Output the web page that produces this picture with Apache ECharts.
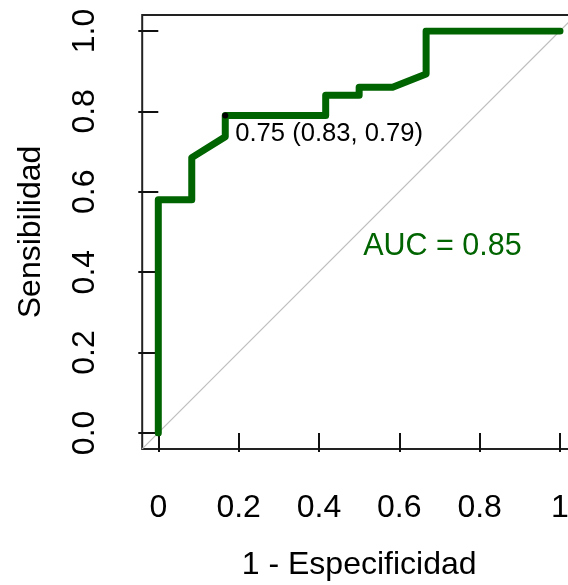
<!DOCTYPE html>
<html><head><meta charset="utf-8">
<script src="https://cdn.jsdelivr.net/npm/echarts@6/dist/echarts.min.js"></script>
<style>html,body{margin:0;padding:0;background:#fff}#c{width:568px;height:585px}</style>
</head><body><div id="c"></div>
<script>
// ---- data ----
const fpr = [0, 0, 0.0833, 0.0833, 0.1667, 0.1667, 0.4167, 0.4167, 0.5, 0.5, 0.5833, 0.6667, 0.6667, 1];
const tpr = [0, 0.58, 0.58, 0.685, 0.737, 0.79, 0.79, 0.84, 0.84, 0.86, 0.86, 0.893, 1, 1];
const xTickLabels = ['0', '0.2', '0.4', '0.6', '0.8', '1'];
const yTickLabels = ['0.0', '0.2', '0.4', '0.6', '0.8', '1.0'];
const xTitle = '1 - Especificidad';
const yTitle = 'Sensibilidad';
const aucValue = 0.85;
const thrValue = 0.75;
const thrSpec = 0.8333;
const thrSens = 0.79;
const aucPos = [0.51, 0.463];
const diagX = [-0.04, 1.04];
const diagY = [-0.04, 1.04];

const FONT = 'Liberation Sans, Arial, sans-serif';
const chart = echarts.init(document.getElementById('c'), null, {renderer: 'canvas'});

const rocData = fpr.map((x, i) => [x, tpr[i]]);
const diagData = diagX.map((x, i) => [x, diagY[i]]);
const thrLabel = thrValue.toFixed(2) + ' (' + thrSpec.toFixed(2) + ', ' + thrSens.toFixed(2) + ')';

chart.setOption({
  animation: false,
  backgroundColor: '#fff',
  grid: [
    {left: 142.2, top: 14.9, width: 433.8, height: 434, show: true, borderColor: '#222', borderWidth: 2,
     backgroundColor: 'transparent', outerBoundsMode: 'none', containLabel: false},
    {left: 158.3, top: 31, width: 401.7, height: 401.9, outerBoundsMode: 'none', containLabel: false}
  ],
  xAxis: [
    {gridIndex: 0, type: 'value', min: -0.04, max: 1.04, show: false},
    {gridIndex: 1, type: 'value', min: 0, max: 1, interval: 0.2, offset: 16,
     axisLine: {show: false},
     axisTick: {show: true, length: 19, lineStyle: {color: '#111', width: 2}},
     splitLine: {show: false},
     axisLabel: {margin: 43, fontSize: 32, color: '#000', fontFamily: FONT,
       showMinLabel: true, showMaxLabel: true,
       formatter: v => xTickLabels[Math.round(v / 0.2)]},
     name: xTitle, nameLocation: 'middle', nameGap: 100, nameMoveOverlap: false,
     nameTextStyle: {fontSize: 32, color: '#000', fontFamily: FONT}}
  ],
  yAxis: [
    {gridIndex: 0, type: 'value', min: -0.04, max: 1.04, show: false},
    {gridIndex: 1, type: 'value', min: 0, max: 1, interval: 0.2, offset: 16,
     axisLine: {show: false},
     axisTick: {show: true, length: 20, lineStyle: {color: '#111', width: 2}},
     splitLine: {show: false},
     axisLabel: {margin: 41, fontSize: 32, color: '#000', fontFamily: FONT, rotate: 90,
       showMinLabel: true, showMaxLabel: true,
       formatter: v => yTickLabels[Math.round(v / 0.2)]},
     name: yTitle, nameLocation: 'middle', nameGap: 95, nameRotate: 90, nameMoveOverlap: false,
     nameTextStyle: {fontSize: 32, color: '#000', fontFamily: FONT}}
  ],
  series: [
    {type: 'line', xAxisIndex: 0, yAxisIndex: 0, data: diagData, symbol: 'none', silent: true,
     lineStyle: {color: '#BEBEBE', width: 1.2}, z: 1},
    {type: 'line', xAxisIndex: 1, yAxisIndex: 1, data: rocData, symbol: 'none', silent: true,
     lineStyle: {color: '#006400', width: 7, cap: 'round', join: 'round'}, z: 2},
    {type: 'scatter', xAxisIndex: 1, yAxisIndex: 1, data: [[1 - thrSpec, thrSens]], symbol: 'circle',
     symbolSize: 6, itemStyle: {color: '#000', opacity: 1}, silent: true, z: 3,
     label: {show: true, position: 'right', distance: 7, offset: [0, 19], formatter: thrLabel,
       fontSize: 25.6, color: '#000', opacity: 1, fontFamily: FONT}},
    {type: 'scatter', xAxisIndex: 1, yAxisIndex: 1, data: [aucPos], symbolSize: 0, silent: true, z: 3,
     itemStyle: {opacity: 1},
     label: {show: true, position: 'right', distance: 0, formatter: 'AUC = ' + aucValue.toFixed(2),
       fontSize: 30.5, color: '#006400', opacity: 1, fontFamily: FONT}}
  ]
});
</script></body></html>
